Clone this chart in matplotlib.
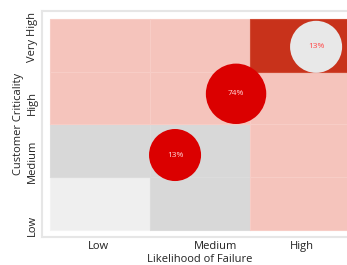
import matplotlib
matplotlib.use("Agg")
import matplotlib.pyplot as plt
from matplotlib.patches import Rectangle

# ---- data ----
likelihood_labels = ["Low", "Medium", "High"]
criticality_labels = ["Low", "Medium", "High", "Very High"]
# risk level per cell, rows = criticality (Low -> Very High), cols = likelihood
cell_levels = [
    ["minimal", "low", "elevated"],
    ["low", "low", "elevated"],
    ["elevated", "elevated", "elevated"],
    ["elevated", "elevated", "critical"],
]
bubble_likelihood = [2.66, 1.86, 1.25]
bubble_criticality = [3.47, 2.58, 1.42]
bubble_pct = [13, 74, 13]

# ---- style ----
level_colors = {"minimal": "#efefef", "low": "#d8d8d8",
                "elevated": "#f5c4bc", "critical": "#c8321b"}
level_edges = {"minimal": "#f3f3f3", "low": "#dcdcdc",
               "elevated": "#f7cdc6", "critical": "#d04a33"}
bubble_colors = ["#e8e8e8", "#db0000", "#db0000"]
bubble_text = ["#ff4a4a", "#ffd6d6", "#ffd6d6"]

plt.rcParams["font.family"] = ["Open Sans", "DejaVu Sans"]

fig = plt.figure(figsize=(3.47, 2.65), dpi=100)
ax = fig.add_axes([0.121, 0.1057, 0.911, 0.853])
ax.set_xlim(-0.08, 3.08)
ax.set_ylim(-0.133, 4.15)

for r, row in enumerate(cell_levels):
    for c, lvl in enumerate(row):
        ax.add_patch(Rectangle((c, r), 1, 1, facecolor=level_colors[lvl],
                               edgecolor=level_edges[lvl], linewidth=0.8, zorder=1))

sizes = [1300 + 8 * p for p in bubble_pct]
ax.scatter(bubble_likelihood, bubble_criticality, s=sizes, c=bubble_colors,
           edgecolors="none", zorder=3)
for x, y, p, tc in zip(bubble_likelihood, bubble_criticality, bubble_pct, bubble_text):
    ax.text(x, y, f"{p}%", ha="center", va="center", fontsize=6, color=tc, zorder=4)

ax.set_xticks([0.48, 1.66, 2.52])
ax.set_xticklabels(likelihood_labels)
ax.set_yticks([0.09, 1.31, 2.41, 3.66])
ax.set_yticklabels(criticality_labels, rotation=90, va="center")
ax.tick_params(length=0, labelsize=8, colors="#222222")
ax.tick_params(axis="x", pad=3)
ax.tick_params(axis="y", pad=3)
ax.set_xlabel("Likelihood of Failure", fontsize=8, color="#222222", labelpad=1)
ax.set_ylabel("Customer Criticality", fontsize=8, color="#222222", labelpad=2)

for s in ax.spines.values():
    s.set_color("#e6e6e6")
    s.set_linewidth(1.5)

fig.savefig("out.png", dpi=100)
